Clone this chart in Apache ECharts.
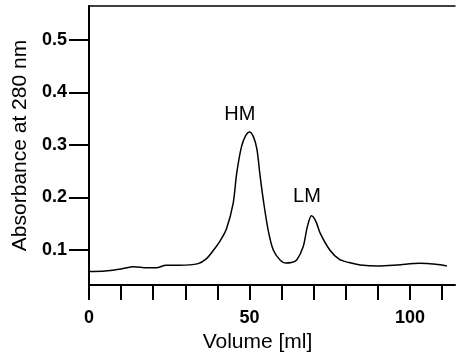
<!DOCTYPE html>
<html>
<head>
<meta charset="utf-8">
<script src="https://cdn.jsdelivr.net/npm/echarts@6/dist/echarts.min.js"></script>
<style>
  html, body { margin: 0; padding: 0; background: #fff; }
  #chart { width: 459px; height: 352px; }
</style>
</head>
<body>
<div id="chart"></div>
<script>
// elution profile
const volume = [0, 5, 10, 14, 18, 21, 24, 28, 34, 36.5, 38.7, 40.8, 42.8, 44.9, 46, 47.5, 48.8, 50, 51.2, 52.3, 53.2, 54.3, 55.8, 57.4, 59.5, 61.3, 63, 64.7, 66.7, 68, 69.3, 70.7, 72, 75, 78, 81, 84.5, 90, 96, 103, 108, 111.5];
const absorbance = [0.059, 0.060, 0.064, 0.068, 0.066, 0.066, 0.071, 0.071, 0.074, 0.083, 0.099, 0.117, 0.140, 0.189, 0.246, 0.297, 0.318, 0.325, 0.316, 0.292, 0.246, 0.195, 0.138, 0.100, 0.081, 0.075, 0.076, 0.081, 0.106, 0.144, 0.165, 0.154, 0.132, 0.100, 0.082, 0.076, 0.0715, 0.0695, 0.0714, 0.0746, 0.0728, 0.0695];

const xTicks = [0, 10, 20, 30, 40, 50, 60, 70, 80, 90, 100, 110];
const xLabels = [0, 50, 100];
const yTicks = [0.1, 0.2, 0.3, 0.4, 0.5];

const peakNames = ["HM", "LM"];
const peakAt = [[47, 0.359], [67.9, 0.201]];

const font = "'Liberation Sans', Arial, sans-serif";
const chart = echarts.init(document.getElementById("chart"), null, { renderer: "canvas" });

const option = {
  animation: false,
  grid: { left: 89, right: 4, top: 6, bottom: 67, outerBoundsMode: "none" },
  xAxis: [
    {
      type: "value",
      min: 0,
      max: 114,
      name: "Volume [ml]",
      nameLocation: "middle",
      nameGap: 40,
      nameTextStyle: { fontFamily: font, fontSize: 21, color: "#000", padding: [0, 29, 0, 0] },
      axisLine: { show: true, onZero: false, lineStyle: { color: "#000", width: 2 } },
      axisTick: { show: true, length: 15, customValues: xTicks, lineStyle: { color: "#000", width: 2 } },
      axisLabel: {
        customValues: xLabels,
        margin: 24,
        fontFamily: font, fontSize: 18, fontWeight: "bold", color: "#000",
      },
      splitLine: { show: false },
    },
    {
      type: "value",
      position: "top",
      min: 0,
      max: 114,
      axisLine: { show: true, lineStyle: { color: "#000", width: 1.5 } },
      axisTick: { show: false },
      axisLabel: { show: false },
      splitLine: { show: false },
    },
  ],
  yAxis: {
    type: "value",
    min: 0.0333,
    max: 0.5648,
    name: "Absorbance at 280 nm",
    nameLocation: "middle",
    nameGap: 53,
    nameTextStyle: { fontFamily: font, fontSize: 21, color: "#000" },
    axisLine: { show: true, lineStyle: { color: "#000", width: 2 } },
    axisTick: { show: true, length: 20, customValues: yTicks, lineStyle: { color: "#000", width: 2 } },
    axisLabel: {
      customValues: yTicks,
      margin: 22,
      formatter: (v) => v.toFixed(1),
      fontFamily: font, fontSize: 18, fontWeight: "bold", color: "#000",
    },
    splitLine: { show: false },
  },
  series: [
    {
      type: "line",
      data: volume.map((v, i) => [v, absorbance[i]]),
      smooth: 0.3,
      symbol: "none",
      lineStyle: { color: "#000", width: 1.5 },
      markPoint: {
        symbol: "circle",
        symbolSize: 0,
        data: peakNames.map((n, i) => ({ name: n, coord: peakAt[i] })),
        label: {
          show: true,
          position: "inside",
          formatter: (p) => p.name,
          fontFamily: font, fontSize: 20, color: "#000",
        },
      },
    },
  ],
};

chart.setOption(option);
</script>
</body>
</html>
